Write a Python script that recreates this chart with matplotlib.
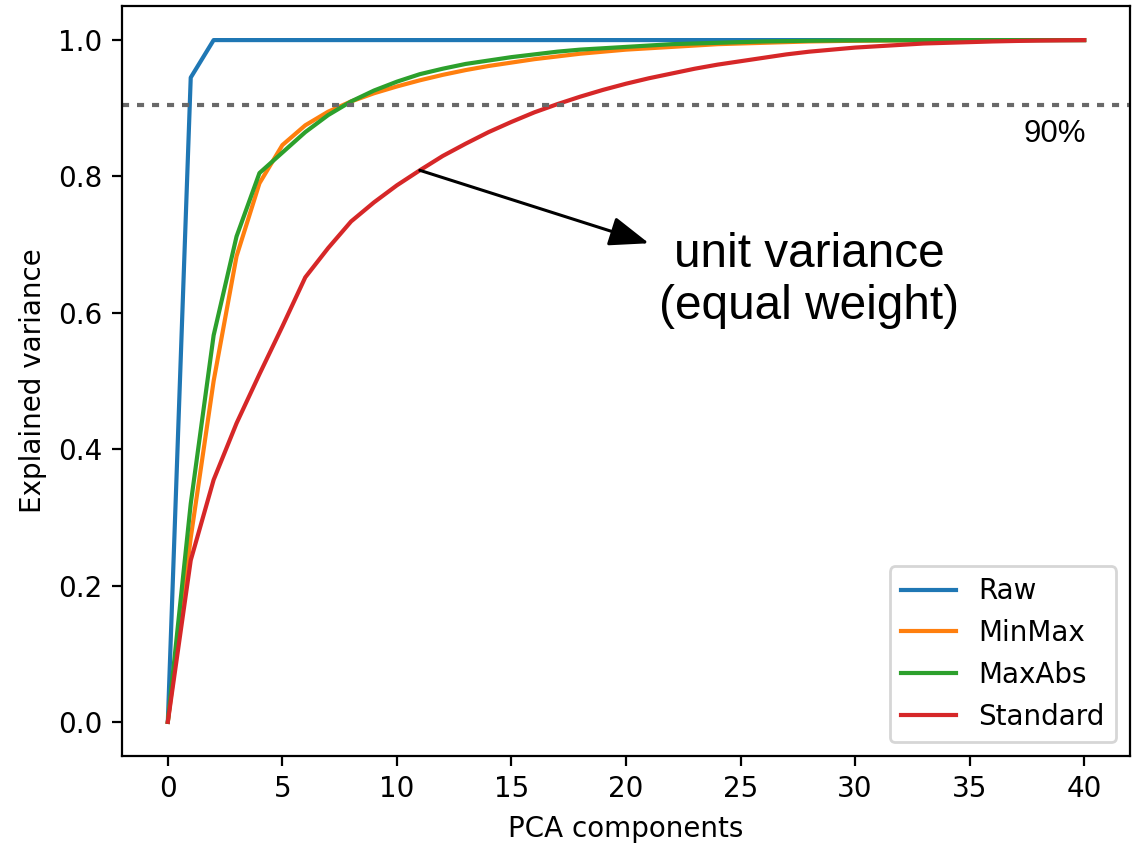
import matplotlib
matplotlib.use("Agg")
import matplotlib.pyplot as plt
import numpy as np

# explained variance per number of PCA components
components = np.arange(0, 41)

raw = [0.0, 0.945] + [1.0] * 39

minmax = [0.0, 0.27, 0.50, 0.683, 0.790, 0.846, 0.875, 0.895, 0.910, 0.922,
          0.932, 0.941, 0.949, 0.956, 0.962, 0.967, 0.972, 0.976, 0.980, 0.983,
          0.986, 0.988, 0.990, 0.992, 0.994, 0.995, 0.996, 0.997, 0.998, 0.9985,
          0.999, 0.9993, 0.9995, 0.9997, 0.9998, 0.9999, 1.0, 1.0, 1.0, 1.0, 1.0]

maxabs = [0.0, 0.32, 0.567, 0.712, 0.805, 0.835, 0.865, 0.890, 0.910, 0.926,
          0.939, 0.950, 0.958, 0.965, 0.970, 0.975, 0.979, 0.983, 0.986, 0.988,
          0.990, 0.992, 0.994, 0.995, 0.996, 0.997, 0.998, 0.9985, 0.999, 0.9993,
          0.9995, 0.9997, 0.9998, 0.9999, 1.0, 1.0, 1.0, 1.0, 1.0, 1.0, 1.0]

standard = [0.0, 0.237, 0.355, 0.438, 0.51, 0.58, 0.652, 0.695, 0.734, 0.762,
            0.787, 0.809, 0.830, 0.848, 0.865, 0.880, 0.894, 0.906, 0.917, 0.927,
            0.936, 0.944, 0.951, 0.958, 0.964, 0.969, 0.974, 0.979, 0.983, 0.986,
            0.989, 0.991, 0.993, 0.995, 0.996, 0.997, 0.998, 0.9987, 0.9993, 0.9997, 1.0]

seuil = 0.905

dpi = 200
fig = plt.figure(figsize=(1136 / dpi, 844 / dpi), dpi=dpi)
ax = fig.add_axes([0.1074, 0.1043, 0.8873, 0.8886])

ax.plot(components, raw, label='Raw')
ax.plot(components, minmax, label='MinMax')
ax.plot(components, maxabs, label='MaxAbs')
ax.plot(components, standard, label='Standard')

ax.axhline(seuil, color='dimgray', linewidth=1.5, linestyle=(0, (1.7, 1.9)))
ax.text(40.1, 0.862, '90%', ha='right', va='center', fontsize=11.2,
        family='Liberation Sans')

ax.annotate('', xy=(21.0, 0.702), xytext=(11.0, 0.809),
            arrowprops=dict(arrowstyle='-|>,head_length=1.6,head_width=0.6',
                            color='black', lw=1.1, mutation_scale=7.6,
                            shrinkA=0, shrinkB=0))
ax.text(28.0, 0.648, 'unit variance\n(equal weight)', ha='center', va='center',
        fontsize=17.2, family='Liberation Sans')

ax.set_xlabel('PCA components')
ax.set_ylabel('Explained variance')
ax.legend(loc='lower right')

fig.savefig('out.png', dpi=dpi)
